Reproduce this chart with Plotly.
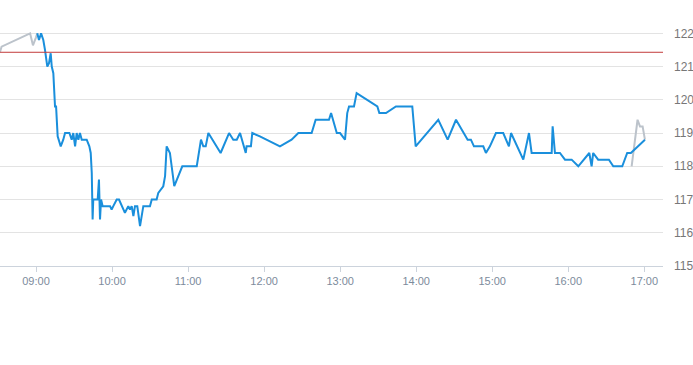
import plotly.graph_objects as go
import pandas as pd

DAY = "2024-01-02 "

# main session (blue)
session_times = [
    "09:01:00", "09:02:20", "09:04:00", "09:05:45", "09:07:05", "09:08:55", "09:10:15", "09:11:35",
    "09:12:25", "09:13:40", "09:15:00", "09:15:50", "09:17:05", "09:18:05", "09:19:30", "09:21:30",
    "09:22:55", "09:26:20", "09:28:10", "09:29:25", "09:30:50", "09:32:05", "09:33:25", "09:34:40",
    "09:36:05", "09:37:20", "09:40:00", "09:42:05", "09:43:10", "09:44:00", "09:44:40", "09:45:10",
    "09:48:40", "09:49:40", "09:50:30", "09:51:20", "09:52:35", "09:58:25", "09:59:40", "10:01:00",
    "10:03:40", "10:05:30", "10:07:35", "10:10:10", "10:12:50", "10:14:10", "10:15:30", "10:16:50",
    "10:18:05", "10:19:55", "10:22:05", "10:24:40", "10:29:55", "10:31:20", "10:35:10", "10:36:30",
    "10:40:25", "10:41:50", "10:43:05", "10:45:40", "10:49:05", "10:55:25", "11:06:50", "11:08:35",
    "11:10:10", "11:12:00", "11:13:55", "11:16:00", "11:25:40", "11:32:20", "11:35:40", "11:38:25",
    "11:41:00", "11:45:30", "11:46:10", "11:49:35", "11:50:40", "11:56:40", "12:12:30", "12:21:40",
    "12:27:00", "12:37:30", "12:40:40", "12:51:10", "12:52:50", "12:57:20", "12:59:55", "13:03:50",
    "13:05:35", "13:07:00", "13:10:55", "13:13:00", "13:29:20", "13:30:55", "13:36:10", "13:44:00",
    "13:56:55", "13:59:35", "14:17:25", "14:24:50", "14:31:25", "14:40:35", "14:43:10", "14:45:35",
    "14:52:55", "14:55:00", "14:58:10", "15:02:55", "15:08:40", "15:13:10", "15:14:50", "15:24:30",
    "15:29:00", "15:31:05", "15:46:55", "15:47:40", "15:49:30", "15:53:25", "15:57:25", "16:02:40",
    "16:07:55", "16:16:35", "16:18:25", "16:19:40", "16:23:35", "16:32:05", "16:35:30", "16:42:35",
    "16:46:30", "16:49:25", "17:00:30",
]
session_prices = [
    122.0, 121.8, 122.0, 121.8, 121.5, 121.0, 121.1, 121.4,
    121.0, 120.8, 119.8, 119.8, 118.9, 118.8, 118.6, 118.8,
    119.0, 119.0, 118.8, 119.0, 118.6, 119.0, 118.8, 119.0,
    118.8, 118.8, 118.8, 118.6, 118.4, 117.8, 116.4, 117.0,
    117.0, 117.6, 116.4, 117.0, 116.8, 116.8, 116.7, 116.8,
    117.0, 117.0, 116.8, 116.6, 116.8, 116.7, 116.8, 116.5,
    116.8, 116.8, 116.2, 116.8, 116.8, 117.0, 117.0, 117.2,
    117.4, 117.7, 118.6, 118.4, 117.4, 118.0, 118.0, 118.4,
    118.8, 118.6, 118.6, 119.0, 118.4, 119.0, 118.8, 118.8,
    119.0, 118.4, 118.6, 118.6, 119.0, 118.9, 118.6, 118.8,
    119.0, 119.0, 119.4, 119.4, 119.6, 119.0, 119.0, 118.8,
    119.6, 119.8, 119.8, 120.2, 119.8, 119.6, 119.6, 119.8,
    119.8, 118.6, 119.4, 118.8, 119.4, 118.8, 118.8, 118.6,
    118.6, 118.4, 118.6, 119.0, 119.0, 118.6, 119.0, 118.2,
    119.0, 118.4, 118.4, 119.2, 118.4, 118.4, 118.2, 118.2,
    118.0, 118.4, 118.0, 118.4, 118.2, 118.2, 118.0, 118.0,
    118.4, 118.4, 118.8,
]

# extended hours (grey)
pre_times = ["08:31:35", "08:32:50", "08:55:20", "08:57:35", "09:00:00", "09:01:00"]
pre_prices = [121.44, 121.6, 122.0, 121.64, 121.88, 122.0]
post_times = ["16:50:00", "16:54:40", "16:56:35", "16:58:40", "17:00:30"]
post_prices = [118.0, 119.4, 119.2, 119.2, 118.8]

previous_close = 121.43

y_ticks = [115, 116, 117, 118, 119, 120, 121, 122]
x_tick_labels = ["09:00", "10:00", "11:00", "12:00", "13:00", "14:00", "15:00", "16:00", "17:00"]

to_dt = lambda ts: pd.to_datetime([DAY + t for t in ts])

fig = go.Figure()
fig.add_trace(go.Scatter(x=to_dt(pre_times), y=pre_prices, mode="lines",
                         line=dict(color="#bcc3cb", width=2), hoverinfo="skip"))
fig.add_trace(go.Scatter(x=to_dt(post_times), y=post_prices, mode="lines",
                         line=dict(color="#bcc3cb", width=2), hoverinfo="skip"))
fig.add_trace(go.Scatter(x=to_dt(session_times), y=session_prices, mode="lines",
                         line=dict(color="#1a8fdc", width=2)))

fig.add_shape(type="line", xref="paper", x0=0, x1=1, yref="y",
              y0=previous_close, y1=previous_close,
              line=dict(color="#c23b3b", width=1))

fig.update_layout(
    width=693, height=365,
    margin=dict(l=0, r=30, t=30, b=99),
    plot_bgcolor="white", paper_bgcolor="white",
    showlegend=False,
    font=dict(family="Liberation Sans, Arial, sans-serif"),
)
fig.update_xaxes(
    range=[pd.Timestamp(DAY + "08:31:35"), pd.Timestamp(DAY + "17:14:45")],
    tickvals=to_dt(x_tick_labels), ticktext=x_tick_labels,
    showgrid=False, showline=True, linecolor="#ccd3dc", linewidth=1,
    ticks="outside", ticklen=5, tickcolor="#ccd3dc",
    tickfont=dict(size=11, color="#7d8b9c"), zeroline=False,
)
fig.update_yaxes(
    side="right", range=[115, 122.1], tickvals=y_ticks,
    showgrid=True, gridcolor="#e3e3e3", gridwidth=1, zeroline=False,
    ticks="", ticklabelstandoff=10,
    tickfont=dict(size=12, color="#777777"),
)

fig.write_html("out.html", config={"displayModeBar": False},
               post_script="document.body.style.margin='0';")
